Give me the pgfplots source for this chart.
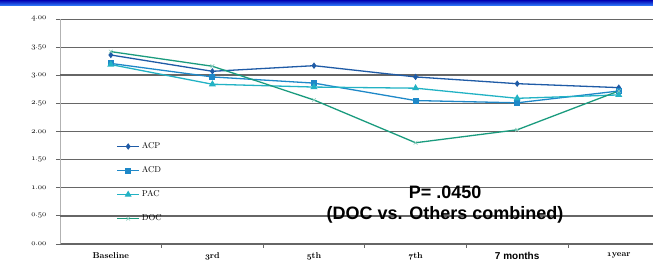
\documentclass[border=0pt]{standalone}
\usepackage{pgfplots}
\pgfplotsset{compat=1.18}
\usepackage{fontspec}
\newfontfamily\arial{Liberation Sans}
\definecolor{cACP}{HTML}{1F5BA6}
\definecolor{cACD}{HTML}{1E88C8}
\definecolor{cPAC}{HTML}{22B2C4}
\definecolor{cDOC}{HTML}{1A9B7E}
\definecolor{gridc}{HTML}{666666}
\newcommand{\os}[1]{{\fontfamily{cmm}\fontencoding{OML}\selectfont #1}}
\begin{document}
\begin{tikzpicture}[x=1pt,y=1pt]
\useasboundingbox (0,0) rectangle (653,264);
\shade[top color=blue!70!black, bottom color=blue!60!cyan!80] (0,258) rectangle (653,264);
\begin{axis}[
  at={(60pt,20pt)}, anchor=south west,
  scale only axis, width=593pt, height=225pt,
  xmin=-0.5, xmax=5.337, ymin=0, ymax=4,
  axis x line*=bottom, axis y line*=left,
  x axis line style={draw=gridc, line width=1.6pt, -},
  y axis line style={draw=gray!60, line width=0.8pt, -},
  xtick={0.5,1.5,2.5,3.5,4.5}, xticklabels={},
  extra x ticks={0,1,2,3,4,5},
  extra x tick labels={\textbf{Baseline},\textbf{\os{3}rd},\textbf{\os{5}th},\textbf{\os{7}th},{\arial\bfseries\fontsize{10}{10}\selectfont 7 months},\textbf{\os{1}year}},
  extra x tick style={major tick length=0pt, grid=none},
  x tick label style={font=\fontsize{8.5}{8.5}\selectfont, yshift=-5pt},
  xtick style={draw=gridc, line width=0.6pt},
  major tick length=4pt,
  tick align=outside,
  ytick={0,0.5,1,1.5,2,2.5,3,3.5,4},
  yticklabels={\os{0}.\os{00},\os{0}.\os{50},\os{1}.\os{00},\os{1}.\os{50},\os{2}.\os{00},\os{2}.\os{50},\os{3}.\os{00},\os{3}.\os{50},\os{4}.\os{00}},
  y tick label style={font=\fontsize{8}{8}\selectfont, xshift=-6pt},
  ytick style={draw=gridc, line width=0.8pt},
  ymajorgrids, grid style={draw=gridc, line width=0.9pt},
  clip=false,
  legend style={draw=none, fill=none, at={(0.095,0.46)}, anchor=north west,
    font=\fontsize{8.5}{8.5}\selectfont, row sep=12.5pt, inner sep=0pt},
  legend cell align=left,
  legend image code/.code={\draw[#1] (0pt,0pt) -- (11pt,0pt) -- (22pt,0pt); \path[#1,only marks] plot coordinates {(11pt,0pt)};},
]
\draw[gridc, line width=1.8pt] (axis cs:-0.5,3) -- (axis cs:5.337,3);
\draw[gridc, line width=1.8pt] (axis cs:-0.5,2) -- (axis cs:5.337,2);
\draw[gridc, line width=1.8pt] (axis cs:-0.5,0.5) -- (axis cs:5.337,0.5);
\addplot[cACP, line width=1.3pt, mark=diamond*, mark size=2.2pt] coordinates {(0,3.36) (1,3.07) (2,3.17) (3,2.97) (4,2.85) (5,2.78)};
\addlegendentry{ACP}
\addplot[cACD, line width=1.3pt, mark=square*, mark size=2.4pt] coordinates {(0,3.21) (1,2.97) (2,2.86) (3,2.55) (4,2.51) (5,2.72)};
\addlegendentry{ACD}
\addplot[cPAC, line width=1.3pt, mark=triangle*, mark size=2.8pt] coordinates {(0,3.19) (1,2.84) (2,2.79) (3,2.77) (4,2.59) (5,2.65)};
\addlegendentry{PAC}
\addplot[cDOC, line width=1.3pt, mark=x, mark size=2.6pt, mark options={draw=cDOC!50!white, line width=0.6pt}] coordinates {(0,3.42) (1,3.16) (2,2.56) (3,1.80) (4,2.03) (5,2.72)};
\addlegendentry{DOC}
\node[font=\arial\bfseries\fontsize{18}{21}\selectfont, align=center, anchor=center] at (axis cs:3.29,0.70) {P= .0450\\(DOC vs. Others combined)};
\end{axis}
\end{tikzpicture}
\end{document}
